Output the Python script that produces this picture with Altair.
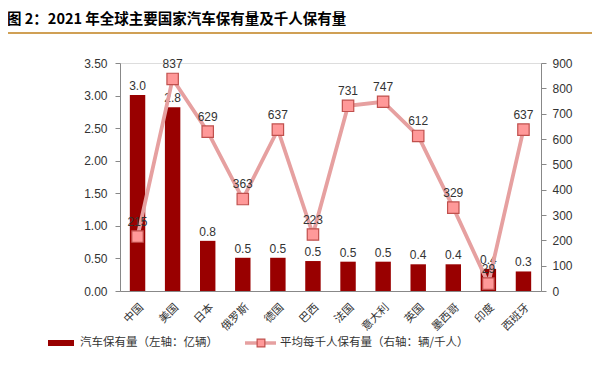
import altair as alt
import pandas as pd

countries = ["中国", "美国", "日本", "俄罗斯", "德国", "巴西", "法国", "意大利", "英国", "墨西哥", "印度", "西班牙"]
stock = [3.01, 2.82, 0.77, 0.51, 0.51, 0.46, 0.45, 0.45, 0.41, 0.41, 0.34, 0.30]
stock_labels = ["3.0", "2.8", "0.8", "0.5", "0.5", "0.5", "0.5", "0.5", "0.4", "0.4", "0.4", "0.3"]
per1000 = [215, 837, 629, 363, 637, 223, 731, 747, 612, 329, 29, 637]

left_ticks = [0, 0.5, 1.0, 1.5, 2.0, 2.5, 3.0, 3.5]
right_ticks = [0, 100, 200, 300, 400, 500, 600, 700, 800, 900]

title_text = "图 2：2021 年全球主要国家汽车保有量及千人保有量"
legend_bar = "汽车保有量（左轴：亿辆）"
legend_line = "平均每千人保有量（右轴：辆/千人）"

df = pd.DataFrame({"country": countries, "stock": stock, "stock_label": stock_labels, "per1000": per1000})

FONT = "Noto Sans CJK SC"
BAR = "#990000"
LINE = "#E6A0A0"
PT_FILL = "#FF9999"
PT_STROKE = "#C0504D"
GOLD = "#D0A055"
TXT = "#333333"

x = alt.X("country:N", sort=None, title=None,
          scale=alt.Scale(paddingInner=0.56, paddingOuter=0.28),
          axis=alt.Axis(labelAngle=-45, ticks=False, labelFontSize=11, labelColor=TXT,
                        labelFont=FONT, domainColor="#888888", labelPadding=10))

yl = alt.Y("stock:Q", title=None,
           scale=alt.Scale(domain=[0, 3.5], nice=False),
           axis=alt.Axis(values=left_ticks, format=".2f", grid=False, labelFontSize=12,
                         labelColor=TXT, domainColor="#888888", tickColor="#888888",
                         tickSize=5, labelPadding=8, labelFont="Liberation Sans"))

bars = alt.Chart(df).mark_bar(color=BAR).encode(x=x, y=yl)
bar_text = alt.Chart(df).mark_text(dy=-9, fontSize=12, color=TXT, font="Liberation Sans").encode(
    x=x, y=yl, text="stock_label:N")
left_layer = alt.layer(bars, bar_text)

yr = alt.Y("per1000:Q", title=None,
           scale=alt.Scale(domain=[0, 900], nice=False),
           axis=alt.Axis(orient="right", values=right_ticks, grid=False, labelFontSize=12,
                         labelColor=TXT, domainColor="#888888", tickColor="#888888",
                         tickSize=5, labelPadding=6, labelFont="Liberation Sans"))

line = alt.Chart(df).mark_line(color=LINE, strokeWidth=3.8).encode(x=x, y=yr)
pts = alt.Chart(df).mark_point(shape="square", filled=True, fill=PT_FILL, stroke=PT_STROKE,
                               strokeWidth=1.2, size=130, opacity=1).encode(x=x, y=yr)
line_text = alt.Chart(df).mark_text(dy=-15, fontSize=12, color=TXT, font="Liberation Sans").encode(
    x=x, y=yr, text="per1000:Q")
right_layer = alt.layer(line, pts, line_text)

base = alt.Chart(pd.DataFrame({"a": [0]}))
gold_top = base.mark_rule(color=GOLD, strokeWidth=2).encode(
    x=alt.value(-112), x2=alt.value(472), y=alt.value(-30))
gold_bot = base.mark_rule(color=GOLD, strokeWidth=2).encode(
    x=alt.value(-112), x2=alt.value(472), y=alt.value(295))
leg_bar = base.mark_rule(color=BAR, strokeWidth=6).encode(
    x=alt.value(-72), x2=alt.value(-46), y=alt.value(280))
leg_bar_t = base.mark_text(align="left", baseline="middle", fontSize=11.5, font=FONT, color=TXT).encode(
    x=alt.value(-40), y=alt.value(280), text=alt.value(legend_bar))
leg_line = base.mark_rule(color=LINE, strokeWidth=3.5).encode(
    x=alt.value(125), x2=alt.value(156), y=alt.value(280))
leg_pt = base.mark_point(shape="square", filled=True, fill=PT_FILL, stroke=PT_STROKE,
                         strokeWidth=1.2, size=60, opacity=1).encode(x=alt.value(141), y=alt.value(280))
leg_line_t = base.mark_text(align="left", baseline="middle", fontSize=11.5, font=FONT, color=TXT).encode(
    x=alt.value(160), y=alt.value(280), text=alt.value(legend_line))

chart = alt.layer(left_layer, right_layer).resolve_scale(y="independent")
chart = alt.layer(chart, gold_top, gold_bot, leg_bar, leg_bar_t, leg_line, leg_pt, leg_line_t).properties(
    width=421, height=228,
    title=alt.TitleParams(title_text, anchor="start", fontSize=14.5, font=FONT, fontWeight="bold",
                          color="#000000", offset=5),
    autosize=alt.AutoSizeParams(type="none"),
    padding={"left": 112, "top": 55, "right": 51, "bottom": 64},
).configure_view(stroke=None).configure(background="white")

chart.save("out.html", embed_options={"renderer": "svg", "actions": False})
